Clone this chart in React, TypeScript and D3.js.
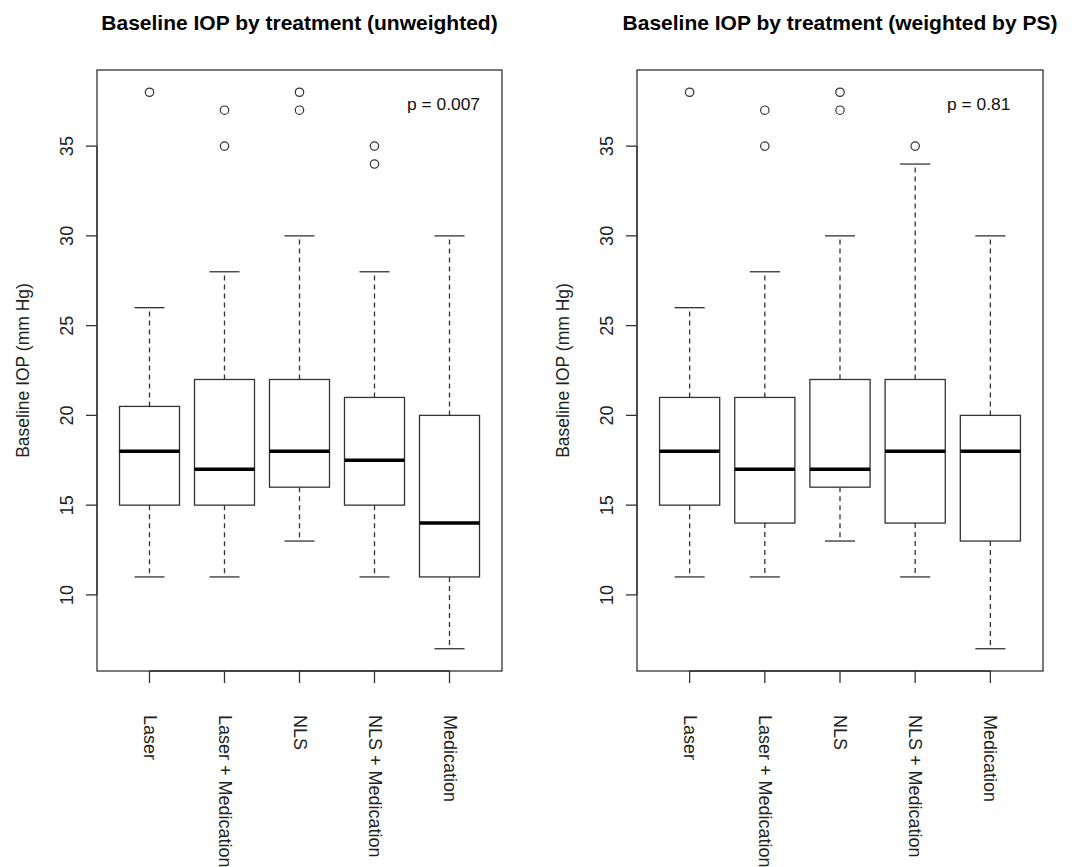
import React from "react";
import * as d3 from "d3";

const categories = ["Laser", "Laser + Medication", "NLS", "NLS + Medication", "Medication"];

// [lower whisker, Q1, median, Q3, upper whisker]
const unweightedStats = [
  [11, 15, 18, 20.5, 26],
  [11, 15, 17, 22, 28],
  [13, 16, 18, 22, 30],
  [11, 15, 17.5, 21, 28],
  [7, 11, 14, 20, 30],
];
const unweightedOutliers = [[38], [35, 37], [37, 38], [34, 35], []];

const weightedStats = [
  [11, 15, 18, 21, 26],
  [11, 14, 17, 21, 28],
  [13, 16, 17, 22, 30],
  [11, 14, 18, 22, 34],
  [7, 13, 18, 20, 30],
];
const weightedOutliers = [[38], [35, 37], [37, 38], [35], []];

const titles = ["Baseline IOP by treatment (unweighted)", "Baseline IOP by treatment (weighted by PS)"];
const pLabels = ["p = 0.007", "p = 0.81"];
const yTicks = [10, 15, 20, 25, 30, 35];
const yLabel = "Baseline IOP (mm Hg)";

const FONT = "'Liberation Sans', Arial, Helvetica, sans-serif";
const LINE = "#333";

type PanelProps = {
  left: number;
  right: number;
  title: string;
  pLabel: string;
  stats: number[][];
  outliers: number[][];
};

// shared y domain, R style: data range extended by 4%
const allVals = [
  ...unweightedStats.flat(),
  ...unweightedOutliers.flat(),
  ...weightedStats.flat(),
  ...weightedOutliers.flat(),
];
const [yMin, yMax] = d3.extent(allVals) as [number, number];
const yPad = (yMax - yMin) * 0.04;

const top = 70;
const bottom = 671;

const Panel = ({ left, right, title, pLabel, stats, outliers }: PanelProps) => {
  const n = categories.length;
  const xPad = n * 0.04;
  const x = d3.scaleLinear([0.5 - xPad, n + 0.5 + xPad], [left, right]);
  const y = d3.scaleLinear([yMin - yPad, yMax + yPad], [bottom, top]);
  const bw = x(1.4) - x(1);
  const cw = x(1.2) - x(1);

  return (
    <g>
      <text
        x={(left + right) / 2}
        y={30}
        textAnchor="middle"
        fontFamily={FONT}
        fontWeight="bold"
        fontSize={21}
      >
        {title}
      </text>
      <rect x={left} y={top} width={right - left} height={bottom - top} fill="none" stroke={LINE} strokeWidth={1.3} />

      {/* y axis */}
      <line x1={left} x2={left} y1={y(yTicks[0])} y2={y(yTicks[yTicks.length - 1])} stroke={LINE} strokeWidth={1.3} />
      {yTicks.map((t) => (
        <g key={t}>
          <line x1={left - 11} x2={left} y1={y(t)} y2={y(t)} stroke={LINE} strokeWidth={1.3} />
          <text
            transform={`translate(${left - 30},${y(t)}) rotate(-90)`}
            textAnchor="middle"
            dominantBaseline="central"
            fontFamily={FONT}
            fontSize={18}
            fill="#222"
          >
            {t}
          </text>
        </g>
      ))}
      <text
        transform={`translate(${left - 74},${(top + bottom) / 2}) rotate(-90)`}
        textAnchor="middle"
        dominantBaseline="central"
        fontFamily={FONT}
        fontSize={17.5}
        fill="#222"
      >
        {yLabel}
      </text>

      {/* x axis */}
      <line x1={x(1)} x2={x(n)} y1={bottom} y2={bottom} stroke={LINE} strokeWidth={1.3} />
      {categories.map((c, i) => (
        <g key={c}>
          <line x1={x(i + 1)} x2={x(i + 1)} y1={bottom} y2={bottom + 12} stroke={LINE} strokeWidth={1.3} />
          <text
            transform={`translate(${x(i + 1)},${bottom + 44}) rotate(90)`}
            textAnchor="start"
            dominantBaseline="central"
            fontFamily={FONT}
            fontSize={18}
            fill="#222"
          >
            {c}
          </text>
        </g>
      ))}

      {/* boxes */}
      {stats.map(([lo, q1, med, q3, hi], i) => {
        const cx = x(i + 1);
        return (
          <g key={i}>
            <line x1={cx} x2={cx} y1={y(q1)} y2={y(lo)} stroke={LINE} strokeWidth={1.3} strokeDasharray="5,4" />
            <line x1={cx} x2={cx} y1={y(q3)} y2={y(hi)} stroke={LINE} strokeWidth={1.3} strokeDasharray="5,4" />
            <line x1={cx - cw} x2={cx + cw} y1={y(lo)} y2={y(lo)} stroke={LINE} strokeWidth={1.3} />
            <line x1={cx - cw} x2={cx + cw} y1={y(hi)} y2={y(hi)} stroke={LINE} strokeWidth={1.3} />
            <rect x={cx - bw} y={y(q3)} width={bw * 2} height={y(q1) - y(q3)} fill="white" stroke={LINE} strokeWidth={1.3} />
            <line x1={cx - bw} x2={cx + bw} y1={y(med)} y2={y(med)} stroke="#000" strokeWidth={3.5} />
            {outliers[i].map((o) => (
              <circle key={o} cx={cx} cy={y(o)} r={4.2} fill="none" stroke={LINE} strokeWidth={1.2} />
            ))}
          </g>
        );
      })}

      <text x={left + 310} y={110} fontFamily={FONT} fontSize={17.4} fill="#111">
        {pLabel}
      </text>
    </g>
  );
};

export default function App() {
  return (
    <svg
      width={1083}
      height={867}
      style={{ position: "absolute", left: 0, top: 0, background: "white" }}
    >
      <rect width={1083} height={867} fill="white" />
      <Panel left={97} right={502} title={titles[0]} pLabel={pLabels[0]} stats={unweightedStats} outliers={unweightedOutliers} />
      <Panel left={637} right={1043} title={titles[1]} pLabel={pLabels[1]} stats={weightedStats} outliers={weightedOutliers} />
    </svg>
  );
}
